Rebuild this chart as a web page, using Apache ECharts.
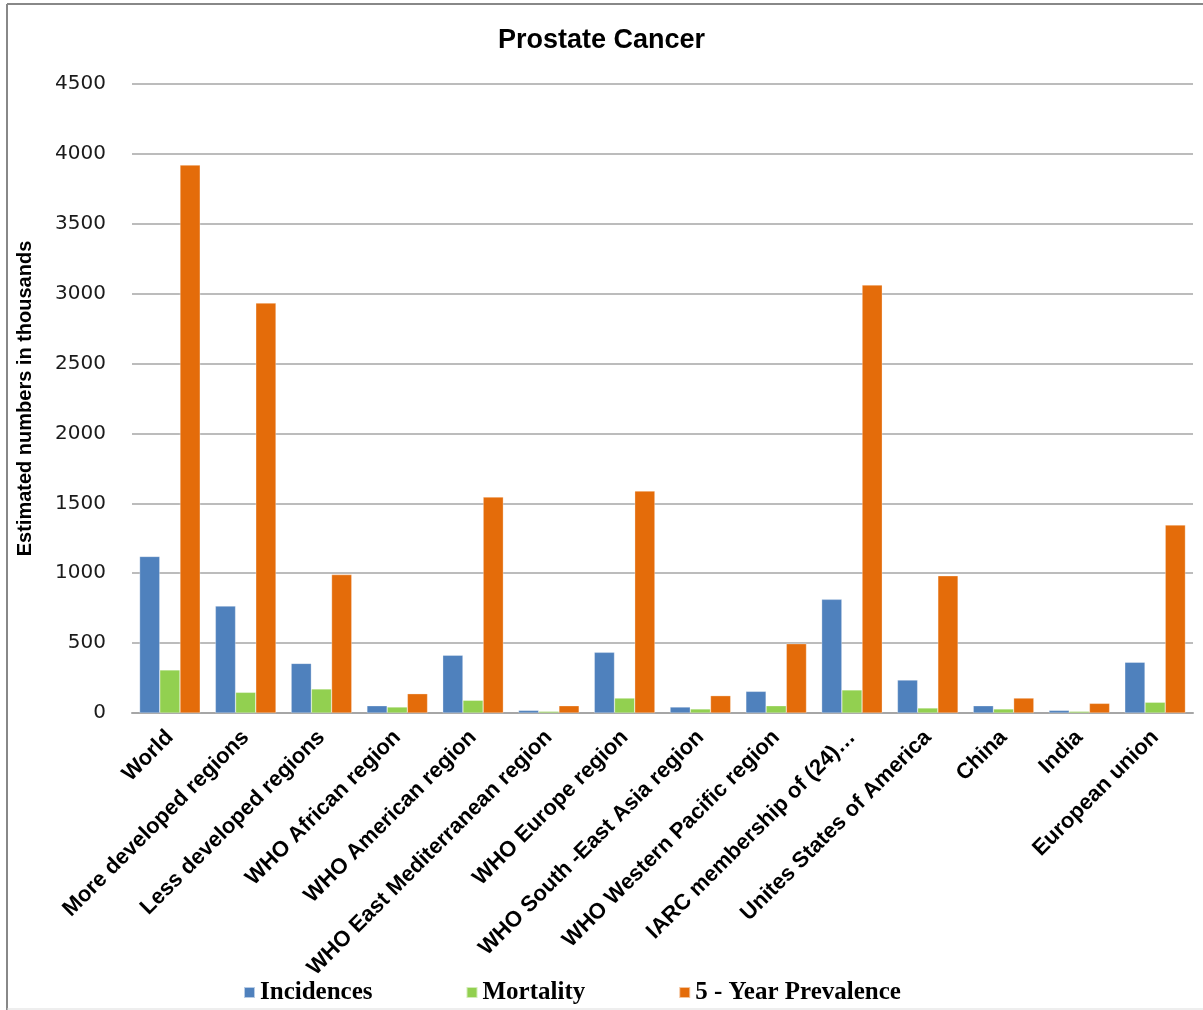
<!DOCTYPE html>
<html>
<head>
<meta charset="utf-8">
<title>Prostate Cancer</title>
<script src="https://cdn.jsdelivr.net/npm/echarts@6/dist/echarts.min.js"></script>
<style>
  html, body { margin: 0; padding: 0; background: #fff; }
  #chart { width: 1203px; height: 1010px; }
</style>
</head>
<body>
<div id="chart"></div>
<script>
var categories = ['World', 'More developed regions', 'Less developed regions', 'WHO African region',
  'WHO American region', 'WHO East Mediterranean region', 'WHO Europe region',
  'WHO South -East Asia region', 'WHO Western Pacific region', 'IARC membership of (24)…',
  'Unites States of America', 'China', 'India', 'European union'];
var incidences = [1120, 765, 355, 52, 413, 19, 434, 43, 155, 813, 236, 52, 19, 363];
var mortality = [308, 148, 172, 43, 91, 12, 107, 29, 52, 165, 36, 29, 12, 77];
var prevalence = [3920, 2933, 990, 138, 1545, 52, 1588, 124, 496, 3062, 982, 107, 69, 1345];
var seriesNames = ['Incidences', 'Mortality', '5 - Year Prevalence'];
var colors = ['#4F81BD', '#92D050', '#E46C0A'];
var yTicks = { min: 0, max: 4500, interval: 500 };

var myChart = echarts.init(document.getElementById('chart'));

function makeSeries(name, values) {
  return {
    name: name,
    type: 'bar',
    barGap: '0%',
    barCategoryGap: '20%',
    itemStyle: { borderColor: 'rgba(255,255,255,0.6)', borderWidth: 0.5 },
    data: values
  };
}

var option = {
  color: colors,
  animation: false,
  title: {
    text: 'Prostate Cancer',
    left: 'center',
    top: 22,
    textStyle: { fontFamily: 'Liberation Sans', fontWeight: 'bold', fontSize: 27, color: '#000' }
  },
  legend: {
    bottom: 0,
    left: 238,
    itemWidth: 11,
    itemHeight: 11,
    itemGap: 93,
    icon: 'rect',
    textStyle: { fontFamily: 'Liberation Serif', fontWeight: 'bold', fontSize: 25, color: '#000' },
    data: seriesNames
  },
  grid: { left: 132, right: 10, top: 84, bottom: 297, containLabel: false },
  graphic: [
    { type: 'line', shape: { x1: 7, y1: 4, x2: 7, y2: 1010 }, style: { stroke: '#888', lineWidth: 2 } },
    { type: 'line', shape: { x1: 7, y1: 4, x2: 1203, y2: 4 }, style: { stroke: '#888', lineWidth: 2 } },
    { type: 'line', shape: { x1: 7, y1: 1009, x2: 1203, y2: 1009 }, style: { stroke: '#ddd', lineWidth: 1 } }
  ],
  xAxis: {
    type: 'category',
    data: categories,
    axisTick: { show: false },
    axisLine: { lineStyle: { color: '#A6A6A6', width: 2 } },
    axisLabel: {
      interval: 0,
      rotate: 45,
      margin: 21,
      fontFamily: 'Liberation Sans',
      fontWeight: 'bold',
      fontSize: 22,
      color: '#000'
    }
  },
  yAxis: {
    type: 'value',
    min: yTicks.min,
    max: yTicks.max,
    interval: yTicks.interval,
    name: 'Estimated numbers in thousands',
    nameLocation: 'middle',
    nameGap: 97,
    nameRotate: 90,
    nameTextStyle: { fontFamily: 'Liberation Sans', fontWeight: 'bold', fontSize: 20, color: '#000' },
    axisLine: { show: false },
    axisTick: { show: false },
    splitLine: { lineStyle: { color: '#A6A6A6', width: 1.5 } },
    axisLabel: {
      margin: 26,
      fontFamily: 'DejaVu Sans',
      fontSize: 20,
      color: '#1a1a1a',
      formatter: function (v) { return String(v); }
    }
  },
  series: [
    makeSeries(seriesNames[0], incidences),
    makeSeries(seriesNames[1], mortality),
    makeSeries(seriesNames[2], prevalence)
  ]
};

myChart.setOption(option);
</script>
</body>
</html>
